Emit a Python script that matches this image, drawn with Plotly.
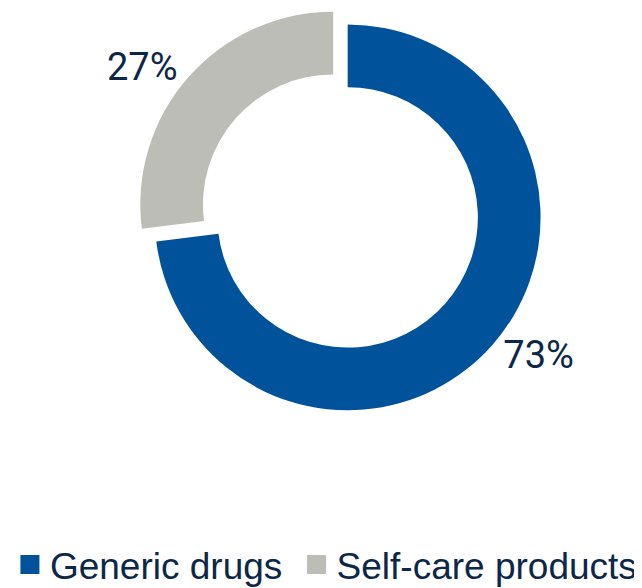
import plotly.graph_objects as go

categories = ["Generic drugs", "Self-care products"]
values = [73, 27]
colors = ["#00529B", "#BDBDB7"]
text_color = "#0C2747"
font_family = "Liberation Sans"
label_family = "Roboto"

fig = go.Figure()

fig.add_trace(go.Pie(
    labels=categories,
    values=values,
    marker=dict(colors=colors, line=dict(width=0)),
    hole=0.675,
    sort=False,
    direction="clockwise",
    rotation=0,
    pull=[0.05, 0.05],
    textinfo="percent",
    texttemplate="%{percent:.0%}",
    textposition="outside",
    textfont=dict(family=label_family, size=38, color=text_color),
    showlegend=False,
    domain=dict(x=[0.2023, 0.8333], y=[0.3102, 0.9993]),
    hoverinfo="label+percent",
))

# legend entries (square markers); small trailing space widens the gap between entries
for i, (name, col) in enumerate(zip(categories, colors)):
    fig.add_trace(go.Scatter(
        x=[None], y=[None], mode="markers",
        name=name + ("\u2005" if i < len(categories) - 1 else ""),
        marker=dict(symbol="square", size=16, color=col, line=dict(color=col, width=3)),
        showlegend=True,
    ))

fig.update_layout(
    width=642, height=588,
    margin=dict(l=0, r=0, t=0, b=0, autoexpand=False),
    paper_bgcolor="white",
    plot_bgcolor="white",
    xaxis=dict(visible=False),
    yaxis=dict(visible=False),
    showlegend=True,
    legend=dict(
        orientation="h",
        x=0.003, xanchor="left",
        y=0, yanchor="bottom",
        font=dict(family=font_family, size=37, color=text_color),
        itemsizing="trace",
        bgcolor="rgba(0,0,0,0)",
    ),
)

fig.write_html("out.html")
